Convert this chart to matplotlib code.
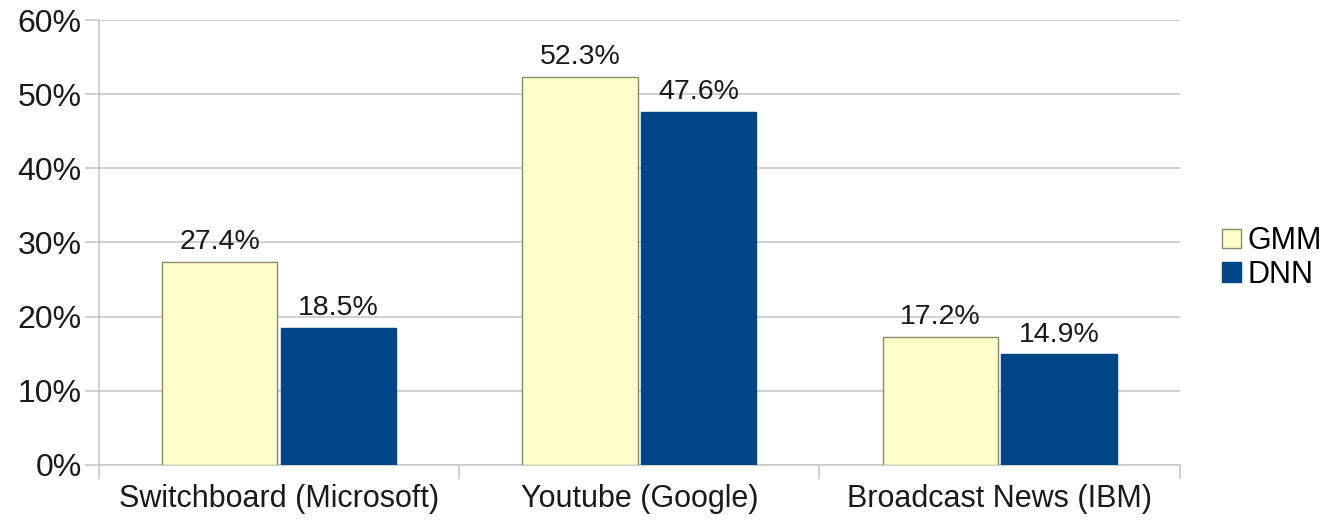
import matplotlib
matplotlib.use("Agg")
import matplotlib.pyplot as plt
import numpy as np
from matplotlib.ticker import FixedLocator

categories = ["Switchboard (Microsoft)", "Youtube (Google)", "Broadcast News (IBM)"]
gmm = [27.4, 52.3, 17.2]
dnn = [18.5, 47.6, 14.9]
series_names = ["GMM", "DNN"]
yticks = [0, 10, 20, 30, 40, 50, 60]

plt.rcParams['font.family'] = ['Liberation Sans', 'DejaVu Sans']

fig = plt.figure(figsize=(13.27, 5.21), dpi=100)
ax = fig.add_axes([0.0746, 0.1075, 0.889 - 0.0746, 0.9616 - 0.1075])

x = np.arange(len(categories))
w = 0.32
off = 0.165
grid_c = "#c8c8c8"
txt_c = "#1a1a1a"
b1 = ax.bar(x - off, gmm, width=w, color="#ffffcc", edgecolor="#8a8a66", linewidth=1.0, label=series_names[0], zorder=3)
b2 = ax.bar(x + off, dnn, width=w, color="#004586", edgecolor="#004586", linewidth=1.0, label=series_names[1], zorder=3)

for bars, vals in ((b1, gmm), (b2, dnn)):
    for r, v in zip(bars, vals):
        ax.annotate(f"{v}%", (r.get_x() + r.get_width() / 2, v), xytext=(0, 5),
                    textcoords="offset points", ha="center", va="bottom", fontsize=20.5, color=txt_c)

ax.set_xlim(-0.5, 2.5)
ax.set_ylim(0, 60)
ax.set_yticks(yticks)
ax.set_yticklabels([f"{t}%" for t in yticks], fontsize=23, color=txt_c)
ax.yaxis.grid(True, color=grid_c, linewidth=1.2, zorder=0)
ax.set_axisbelow(True)

ax.xaxis.set_major_locator(FixedLocator([-0.5, 0.5, 1.5, 2.5]))
ax.set_xticklabels([])
ax.xaxis.set_minor_locator(FixedLocator(list(x)))
ax.set_xticklabels(categories, minor=True, fontsize=22, color=txt_c)
ax.tick_params(axis="x", which="minor", length=0, pad=14)
ax.tick_params(axis="x", which="major", length=10, color=grid_c, width=1.2)
ax.tick_params(axis="y", length=10, color=grid_c, width=1.2, pad=2.5)

for s in ("top", "right"):
    ax.spines[s].set_visible(False)
for s in ("left", "bottom"):
    ax.spines[s].set_color(grid_c)
    ax.spines[s].set_linewidth(1.2)

leg = fig.legend(handles=[b1, b2], labels=series_names, loc="center left",
                 bbox_to_anchor=(0.921, 0.505), frameon=False, fontsize=22,
                 handlelength=0.6, handleheight=0.6, handletextpad=0.22, labelspacing=0.12,
                 borderpad=0, borderaxespad=0)

fig.savefig("out.png", dpi=100)
